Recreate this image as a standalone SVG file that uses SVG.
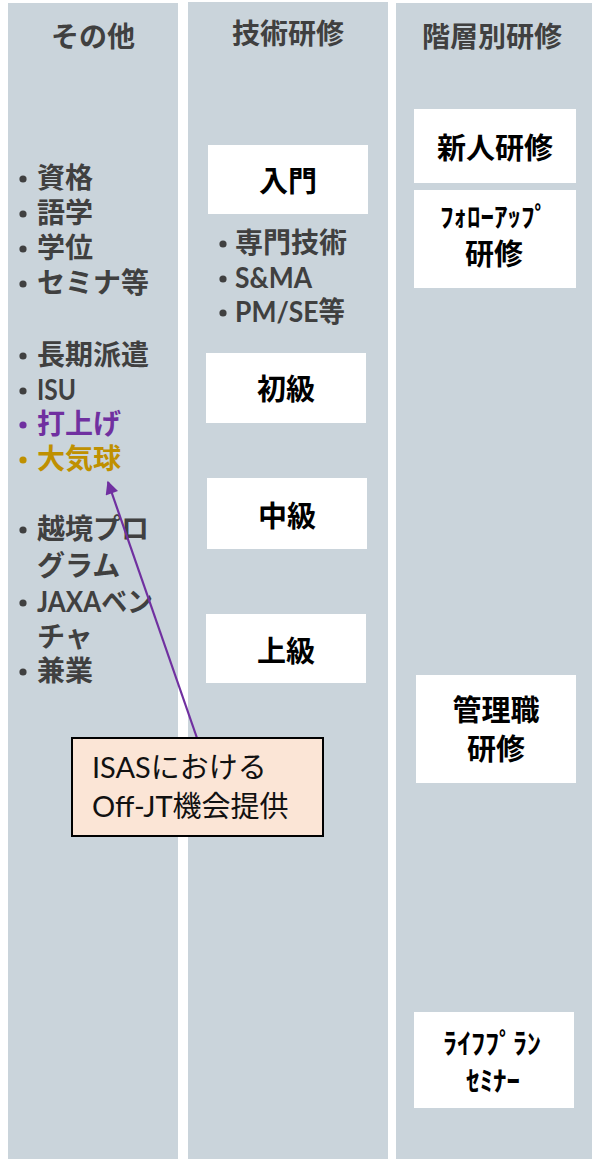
<svg xmlns="http://www.w3.org/2000/svg" width="592" height="1159" viewBox="0 0 592 1159">
<style>
.col{fill:#CAD4DB}
.hdr{font-family:"Noto Sans CJK JP",sans-serif;font-size:28px;font-weight:bold;fill:#404040;text-anchor:middle;dominant-baseline:central}
.li{font-family:Lato,"Noto Sans CJK JP",sans-serif;font-size:28px;font-weight:bold;fill:#404040;dominant-baseline:central}
.box{fill:#FFFFFF}
.bt{font-family:"Noto Sans CJK JP",sans-serif;font-size:29px;font-weight:bold;fill:#000000;text-anchor:middle;dominant-baseline:central}
.hw{font-family:"Noto Sans CJK JP",sans-serif;font-size:27px;font-weight:bold;fill:#000000;text-anchor:middle;dominant-baseline:central}
.ct{font-family:Lato,"Noto Sans CJK JP",sans-serif;font-size:29px;fill:#111111}
</style>
<defs>
<marker id="ah" viewBox="0 0 10 10" refX="9" refY="5" markerWidth="7" markerHeight="6" markerUnits="strokeWidth" orient="auto">
<path d="M0,0 L10,5 L0,10 z" fill="#7030A0"/>
</marker>
</defs>
<g id="columns">
<rect class="col" x="8" y="3" width="170" height="1156"/>
<rect class="col" x="188" y="2" width="200" height="1157"/>
<rect class="col" x="396" y="3" width="196" height="1156"/>
</g>
<g id="col-other">
<text class="hdr" x="93" y="35">その他</text>
<g fill="#404040">
<circle cx="23" cy="179" r="3.6"/><text class="li" x="37" y="177">資格</text>
<circle cx="23" cy="214" r="3.6"/><text class="li" x="37" y="212">語学</text>
<circle cx="23" cy="249" r="3.6"/><text class="li" x="37" y="247">学位</text>
<circle cx="23" cy="284" r="3.6"/><text class="li" x="37" y="282">セミナ等</text>
<circle cx="23" cy="356" r="3.6"/><text class="li" x="37" y="354">長期派遣</text>
<circle cx="23" cy="391" r="3.6"/><text class="li" x="37" y="389" textLength="39" lengthAdjust="spacingAndGlyphs">ISU</text>
</g>
<circle cx="23" cy="425" r="3.6" fill="#7030A0"/><text class="li" x="37" y="423" style="fill:#7030A0">打上げ</text>
<circle cx="23" cy="460" r="3.6" fill="#BF9000"/><text class="li" x="37" y="458" style="fill:#BF9000">大気球</text>
<g fill="#404040">
<circle cx="23" cy="530" r="3.6"/><text class="li" x="37" y="528">越境プロ</text>
<text class="li" x="37" y="565">グラム</text>
<circle cx="23" cy="603" r="3.6"/><text class="li" x="37" y="601" textLength="116" lengthAdjust="spacingAndGlyphs">JAXAベン</text>
<text class="li" x="37" y="636">チャ</text>
<circle cx="23" cy="672" r="3.6"/><text class="li" x="37" y="670">兼業</text>
</g>
</g>
<g id="col-tech">
<text class="hdr" x="288" y="32">技術研修</text>
<g id="n-nyumon"><rect class="box" x="208" y="145" width="160" height="69"/><text class="bt" x="288" y="179">入門</text></g>
<g fill="#404040">
<circle cx="223" cy="244" r="3.6"/><text class="li" x="235" y="242">専門技術</text>
<circle cx="223" cy="279" r="3.6"/><text class="li" x="235" y="277" textLength="77" lengthAdjust="spacingAndGlyphs">S&amp;MA</text>
<circle cx="223" cy="313" r="3.6"/><text class="li" x="235" y="311" textLength="110" lengthAdjust="spacingAndGlyphs">PM/SE等</text>
</g>
<g id="n-shokyu"><rect class="box" x="206" y="353" width="160" height="70"/><text class="bt" x="286" y="387">初級</text></g>
<g id="n-chukyu"><rect class="box" x="207" y="478" width="160" height="71"/><text class="bt" x="287" y="514">中級</text></g>
<g id="n-jokyu"><rect class="box" x="206" y="614" width="160" height="69"/><text class="bt" x="286" y="649">上級</text></g>
</g>
<g id="col-level">
<text class="hdr" x="492" y="35">階層別研修</text>
<g id="n-shinjin"><rect class="box" x="414" y="109" width="162" height="74"/><text class="bt" x="495" y="146">新人研修</text></g>
<g id="n-followup"><rect class="box" x="414" y="190" width="162" height="98"/><text class="hw" x="494" y="215">ﾌｫﾛｰｱｯﾌﾟ</text><text class="bt" x="494" y="252">研修</text></g>
<g id="n-kanri"><rect class="box" x="416" y="675" width="160" height="108"/><text class="bt" x="496" y="708">管理職</text><text class="bt" x="496" y="747">研修</text></g>
<g id="n-lifeplan"><rect class="box" x="414" y="1012" width="160" height="96"/><text class="hw" x="492" y="1042" style="font-size:28px">ﾗｲﾌﾌﾟﾗﾝ</text><text class="hw" x="493" y="1079">ｾﾐﾅｰ</text></g>
</g>
<g id="connectors">
<line x1="197" y1="738" x2="108" y2="482" stroke="#7030A0" stroke-width="2.2" marker-end="url(#ah)"/>
</g>
<g id="n-callout">
<rect x="72" y="738" width="251" height="98" fill="#FBE5D6" stroke="#000000" stroke-width="2"/>
<text class="ct" x="92" y="778">ISASにおける</text>
<text class="ct" x="92" y="817">Off-JT機会提供</text>
</g>
</svg>
